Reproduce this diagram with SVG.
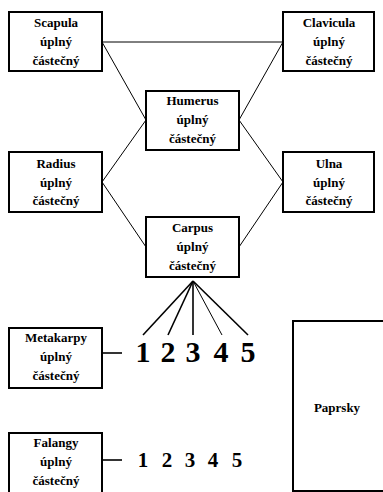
<svg xmlns="http://www.w3.org/2000/svg" width="383" height="492" viewBox="0 0 383 492">
<style>
.box{fill:#fff;stroke:#000;stroke-width:2}
.t{font-family:"Liberation Serif",serif;font-weight:bold;font-size:13px;text-anchor:middle;fill:#000}
.c{stroke:#000;stroke-width:1;fill:none}
.f{stroke:#000;stroke-width:1.6;fill:none}
.big{font-family:"Liberation Serif",serif;font-weight:bold;font-size:30px;text-anchor:middle;fill:#000}
.mid{font-family:"Liberation Serif",serif;font-weight:bold;font-size:21px;text-anchor:middle;fill:#000}
</style>
<rect width="383" height="492" fill="#fff"/>
<g id="connectors">
<line class="c" x1="102" y1="42" x2="283" y2="42"/>
<line class="c" x1="102" y1="42" x2="146" y2="120"/>
<line class="c" x1="283" y1="42" x2="239" y2="120"/>
<line class="c" x1="102" y1="182" x2="146" y2="120"/>
<line class="c" x1="283" y1="182" x2="239" y2="120"/>
<line class="c" x1="102" y1="182" x2="146" y2="247"/>
<line class="c" x1="283" y1="182" x2="239" y2="247"/>
<line class="f" x1="193" y1="281" x2="143" y2="335"/>
<line class="f" x1="193" y1="281" x2="168" y2="335"/>
<line class="f" x1="193" y1="281" x2="193" y2="335"/>
<line class="c" x1="193" y1="281" x2="222" y2="335"/>
<line class="f" x1="193" y1="281" x2="248" y2="335"/>
<line class="f" x1="102" y1="353" x2="122" y2="353"/>
<line class="f" x1="102" y1="460" x2="122" y2="460"/>
</g>
<g id="scapula"><rect class="box" x="9" y="12" width="93" height="59"/><text class="t" x="56" y="27">Scapula</text><text class="t" x="56" y="46">úplný</text><text class="t" x="56" y="65">částečný</text></g>
<g id="clavicula"><rect class="box" x="283" y="12" width="91" height="59"/><text class="t" x="329" y="27">Clavicula</text><text class="t" x="329" y="46">úplný</text><text class="t" x="329" y="65">částečný</text></g>
<g id="humerus"><rect class="box" x="146" y="91" width="93" height="59"/><text class="t" x="192.5" y="105">Humerus</text><text class="t" x="192.5" y="124">úplný</text><text class="t" x="192.5" y="143">částečný</text></g>
<g id="radius"><rect class="box" x="9" y="152" width="93" height="60"/><text class="t" x="56" y="168">Radius</text><text class="t" x="56" y="187">úplný</text><text class="t" x="56" y="205">částečný</text></g>
<g id="ulna"><rect class="box" x="283" y="152" width="91" height="60"/><text class="t" x="329" y="168">Ulna</text><text class="t" x="329" y="187">úplný</text><text class="t" x="329" y="205">částečný</text></g>
<g id="carpus"><rect class="box" x="146" y="217" width="93" height="60"/><text class="t" x="192.5" y="232">Carpus</text><text class="t" x="192.5" y="251">úplný</text><text class="t" x="192.5" y="270">částečný</text></g>
<g id="metakarpy"><rect class="box" x="9" y="328" width="93" height="60"/><text class="t" x="56" y="342">Metakarpy</text><text class="t" x="56" y="361">úplný</text><text class="t" x="56" y="380">částečný</text></g>
<g id="metakarpy-nums"><text class="big" x="143" y="362">1</text><text class="big" x="168" y="362">2</text><text class="big" x="193" y="362">3</text><text class="big" x="221" y="362">4</text><text class="big" x="248" y="362">5</text></g>
<g id="falangy"><rect class="box" x="9" y="433" width="93" height="70"/><text class="t" x="56" y="447">Falangy</text><text class="t" x="56" y="466">úplný</text><text class="t" x="56" y="485">částečný</text></g>
<g id="falangy-nums"><text class="mid" x="143" y="467">1</text><text class="mid" x="167" y="467">2</text><text class="mid" x="190" y="467">3</text><text class="mid" x="213" y="467">4</text><text class="mid" x="237" y="467">5</text></g>
<g id="paprsky"><rect class="box" x="293" y="321" width="100" height="170"/><text class="t" x="337" y="412">Paprsky</text></g>
</svg>
